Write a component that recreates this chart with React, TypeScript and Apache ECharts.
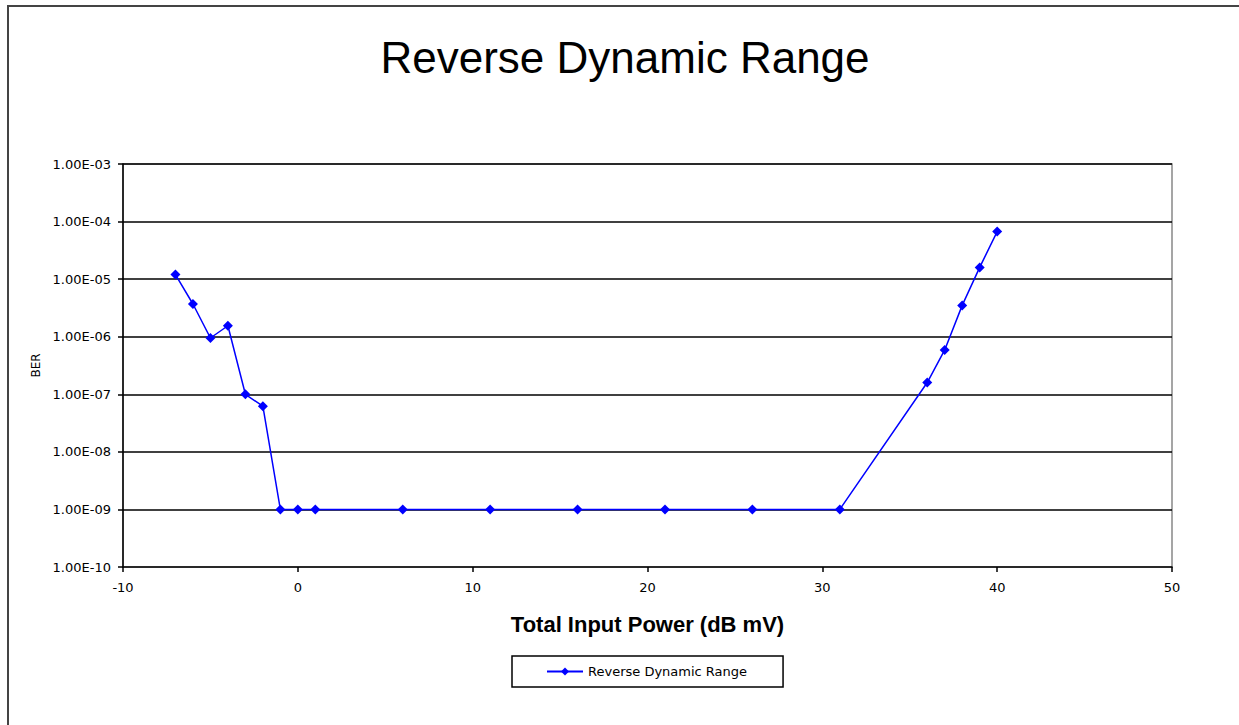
import React, { useEffect, useRef } from "react";
import * as echarts from "echarts";

const title = "Reverse Dynamic Range";
const seriesName = "Reverse Dynamic Range";
const xName = "Total Input Power (dB mV)";
const yName = "BER";

const inputPower = [-7, -6, -5, -4, -3, -2, -1, 0, 1, 6, 11, 16, 21, 26, 31, 36, 37, 38, 39, 40];
const berValues = [
  1.2e-5, 3.7e-6, 9.5e-7, 1.55e-6, 1.0e-7, 6.2e-8, 1e-9, 1e-9, 1e-9, 1e-9, 1e-9, 1e-9, 1e-9, 1e-9, 1e-9,
  1.6e-7, 5.9e-7, 3.5e-6, 1.6e-5, 6.7e-5,
];

const xTicks = [-10, 0, 10, 20, 30, 40, 50];
const yTickLabels = ["1.00E-10", "1.00E-09", "1.00E-08", "1.00E-07", "1.00E-06", "1.00E-05", "1.00E-04", "1.00E-03"];

const FONT = "'Liberation Sans', Arial, sans-serif";
const SMALL = "'DejaVu Sans', 'Liberation Sans', sans-serif";

export default function App() {
  const ref = useRef<HTMLDivElement>(null);
  useEffect(() => {
    if (!ref.current) return;
    const chart = echarts.init(ref.current, null, { renderer: "svg" });
    chart.setOption({
      animation: false,
      backgroundColor: "#ffffff",
      textStyle: { fontFamily: FONT },
      title: {
        text: title,
        left: 620,
        textAlign: "center",
        top: 30,
        textStyle: { fontFamily: FONT, fontSize: 44, fontWeight: "normal", color: "#000" },
      },
      graphic: [
        {
          type: "rect",
          shape: { x: 8, y: 6, width: 1400, height: 900 },
          style: { fill: "none", stroke: "#444", lineWidth: 2 },
          silent: true,
        },
      ],
      legend: {
        left: 512,
        top: 656,
        data: [seriesName],
        borderColor: "#000",
        borderWidth: 1.5,
        borderRadius: 0,
        padding: [9, 36, 9, 34],
        itemWidth: 36,
        itemHeight: 10,
        itemGap: 5,
        textStyle: { fontFamily: SMALL, fontSize: 13, color: "#000" },
      },
      grid: {
        left: 123,
        right: 67,
        top: 164,
        bottom: 158,
        show: true,
        borderColor: "#888",
        borderWidth: 1.5,
        backgroundColor: "#fff",
      },
      xAxis: {
        type: "value",
        min: xTicks[0],
        max: xTicks[xTicks.length - 1],
        interval: 10,
        name: xName,
        nameLocation: "middle",
        nameGap: 46,
        nameTextStyle: { fontFamily: FONT, fontSize: 22, fontWeight: "bold", color: "#000" },
        axisLine: { show: true, onZero: false, lineStyle: { color: "#000", width: 1.5 } },
        axisTick: { show: true, inside: false, length: 5, lineStyle: { color: "#000", width: 1.5 } },
        axisLabel: { margin: 14, fontSize: 13, color: "#000", fontFamily: SMALL },
        splitLine: { show: false },
      },
      yAxis: {
        type: "log",
        logBase: 10,
        min: 1e-10,
        max: 1e-3,
        name: yName,
        nameLocation: "middle",
        nameRotate: 90,
        nameGap: 81,
        nameTextStyle: { fontFamily: SMALL, fontSize: 12, color: "#000" },
        axisLine: { show: true, onZero: false, lineStyle: { color: "#000", width: 1.5 } },
        axisTick: { show: true, inside: false, length: 5, lineStyle: { color: "#000", width: 1.5 } },
        axisLabel: {
          margin: 12,
          fontSize: 13,
          color: "#000",
          fontFamily: SMALL,
          formatter: (v: number) => {
            const idx = Math.round(Math.log10(v)) + 10;
            return yTickLabels[idx] ?? "";
          },
        },
        splitLine: {
          show: true,
          showMaxLine: false,
          showMinLine: false,
          lineStyle: { color: "#000", width: 1.5 },
        },
      },
      series: [
        {
          name: seriesName,
          type: "line",
          data: inputPower.map((x, i) => [x, berValues[i]]),
          symbol: "diamond",
          symbolSize: 10,
          lineStyle: { color: "#0000ff", width: 1.5 },
          itemStyle: { color: "#0000ff" },
        },
      ],
    });
    return () => chart.dispose();
  }, []);
  return <div ref={ref} style={{ position: "absolute", left: 0, top: 0, width: 1239, height: 725 }} />;
}
